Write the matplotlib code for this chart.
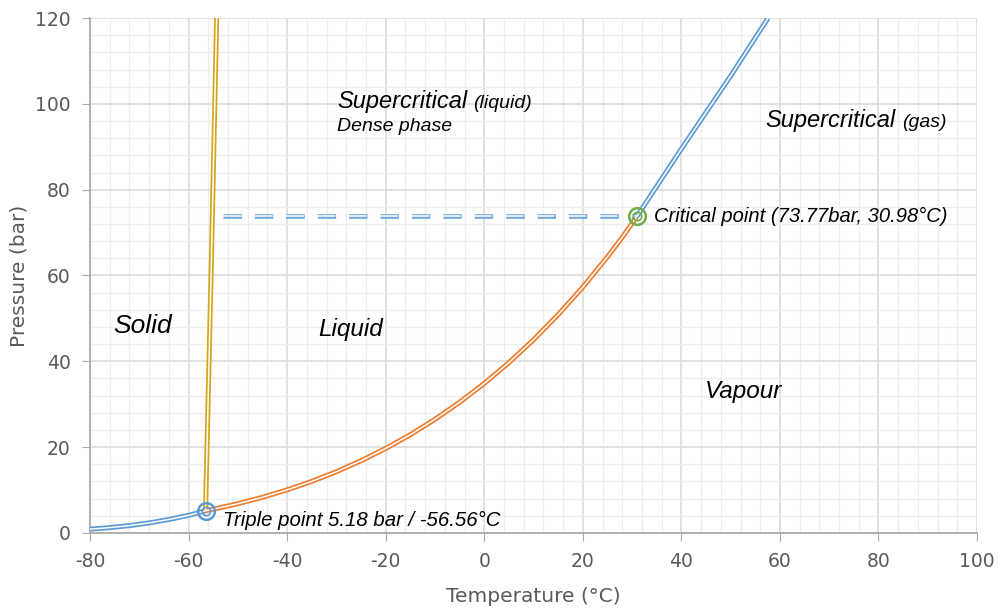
import matplotlib.pyplot as plt
import numpy as np
from matplotlib.ticker import MultipleLocator

plt.rcParams["font.family"] = ["DejaVu Sans"]
plt.rcParams["axes.unicode_minus"] = False

# Sublimation curve (solid / vapour)
subl_T = [-80, -76, -72, -68, -64, -60, -56.56]
subl_P = [0.89, 1.25, 1.72, 2.35, 3.15, 4.1, 5.18]

# Melting curve (solid / liquid)
melt_T = [-56.56, -55.4, -54.3]
melt_P = [5.18, 62, 120]

# Vaporisation curve (liquid / vapour)
vap_T = [-56.56, -55, -50, -45, -40, -35, -30, -25, -20, -15, -10, -5,
         0, 5, 10, 15, 20, 25, 28, 30, 30.98]
vap_P = [5.18, 5.54, 6.82, 8.32, 10.05, 12.02, 14.28, 16.83, 19.70, 22.90,
         26.49, 30.46, 34.85, 39.69, 45.02, 50.87, 57.29, 64.34, 68.9, 72.14, 73.77]

# Supercritical boundary
sc_T = [30.98, 40, 50, 57.6]
sc_P = [73.77, 89.5, 106.5, 120]

# Critical pressure guide line
dash_T = [-53, 30.98]
dash_P = [73.77, 73.77]

triple = (-56.56, 5.18)
critical = (30.98, 73.77)

blue = "#5b9bd5"
orange = "#ed7d31"
gold = "#d4a418"
green = "#70ad47"
grey = "#595959"

fig = plt.figure(figsize=(9.98, 6.11), dpi=100)
ax = fig.add_axes([0.0902, 0.1277, 0.8888, 0.8428])


def double_line(x, y, color):
    ax.plot(x, y, color=color, lw=3.6, solid_capstyle="butt",
            solid_joinstyle="round", zorder=3)
    ax.plot(x, y, color="white", lw=1.1, solid_capstyle="butt",
            solid_joinstyle="round", zorder=4)


double_line(subl_T, subl_P, blue)
double_line(vap_T, vap_P, orange)
double_line(sc_T, sc_P, blue)
double_line(melt_T, melt_P, gold)

ax.plot(dash_T, dash_P, color=blue, lw=3.4, dashes=(3.9, 2.75), alpha=0.85, zorder=3)
ax.plot(dash_T, dash_P, color="white", lw=1.1, dashes=(12.0, 8.5), zorder=4)

# markers
ax.plot(*triple, marker="o", ms=12, mfc="none", mec=blue, mew=1.8, zorder=5)
ax.plot(*triple, marker="o", ms=6, mfc="none", mec=blue, mew=1.2, zorder=5)
ax.plot(*critical, marker="o", ms=12, mfc="none", mec=green, mew=1.8, zorder=5)
ax.plot(*critical, marker="o", ms=6, mfc="none", mec=green, mew=1.2, zorder=5)

ax.set_xlim(-80, 100)
ax.set_ylim(0, 120)
ax.xaxis.set_major_locator(MultipleLocator(20))
ax.yaxis.set_major_locator(MultipleLocator(20))
ax.xaxis.set_minor_locator(MultipleLocator(4))
ax.yaxis.set_minor_locator(MultipleLocator(4))
ax.grid(which="major", color="#d9d9d9", lw=1.1, zorder=0)
ax.grid(which="minor", color="#eeeeee", lw=0.9, zorder=0)
ax.set_axisbelow(True)

for s in ["top", "right"]:
    ax.spines[s].set_visible(False)
for s in ["left", "bottom"]:
    ax.spines[s].set_color("#a6a6a6")
    ax.spines[s].set_linewidth(1.2)
ax.tick_params(which="major", direction="out", length=6, color="#a6a6a6",
               labelsize=13.5, labelcolor=grey, pad=8)
ax.tick_params(which="minor", length=0)

ax.set_xlabel("Temperature (°C)", fontsize=14.5, color=grey)
ax.set_ylabel("Pressure (bar)", fontsize=14.5, color=grey)
ax.xaxis.set_label_coords(0.5, -0.105)
ax.yaxis.set_label_coords(-0.069, 0.5)

txt = dict(family=["Liberation Sans", "DejaVu Sans"], style="italic", color="black")
ax.text(-75.3, 46.6, "Solid", fontsize=19, **txt)
ax.text(-33.7, 46, "Liquid", fontsize=17.5, **txt)
ax.text(44.8, 31.5, "Vapour", fontsize=17.5, **txt)
ax.text(-29.9, 99, "Supercritical", fontsize=17, **txt)
ax.text(-2.3, 99, "(liquid)", fontsize=14, **txt)
ax.text(-29.9, 93.6, "Dense phase", fontsize=14, **txt)
ax.text(57, 94.6, "Supercritical", fontsize=17, **txt)
ax.text(84.8, 94.6, "(gas)", fontsize=14, **txt)
ax.text(34.5, 73.7, "Critical point (73.77bar, 30.98°C)", fontsize=14.5,
        va="center", **txt)
ax.text(-53, 3.0, "Triple point 5.18 bar / -56.56°C", fontsize=14.7,
        va="center", **txt)

fig.savefig("out.png", dpi=100)
